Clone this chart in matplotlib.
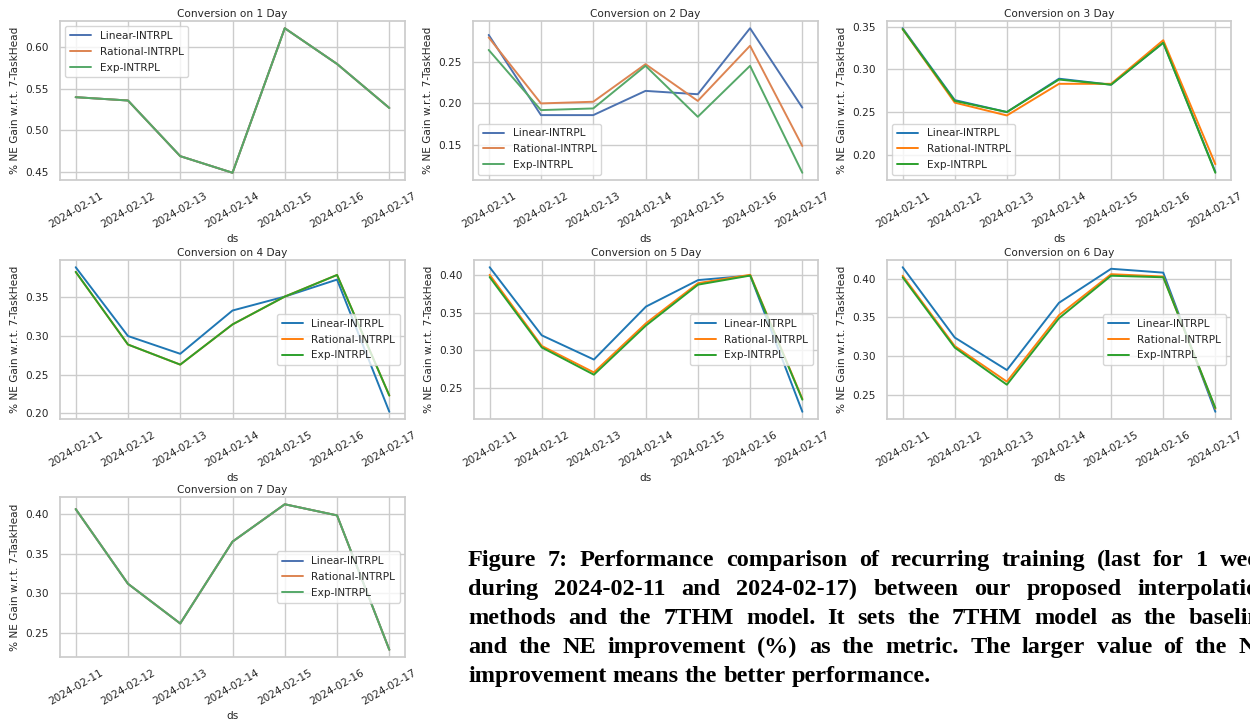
import matplotlib
matplotlib.use("Agg")
import matplotlib.pyplot as plt
import seaborn as sns

sns.set_theme(style="whitegrid")
plt.rcParams['font.family'] = ['DejaVu Sans']

dates = ["2024-02-11", "2024-02-12", "2024-02-13", "2024-02-14",
         "2024-02-15", "2024-02-16", "2024-02-17"]
methods = ["Linear-INTRPL", "Rational-INTRPL", "Exp-INTRPL"]

# Conversion on 1 Day (all three identical)
d1_linear = [0.540, 0.536, 0.469, 0.449, 0.623, 0.580, 0.527]
d1_rational = [0.540, 0.536, 0.469, 0.449, 0.623, 0.580, 0.527]
d1_exp = [0.540, 0.536, 0.469, 0.449, 0.623, 0.580, 0.527]

# Conversion on 2 Day
d2_linear = [0.282, 0.186, 0.186, 0.215, 0.211, 0.290, 0.195]
d2_rational = [0.279, 0.200, 0.202, 0.247, 0.203, 0.269, 0.149]
d2_exp = [0.264, 0.192, 0.194, 0.245, 0.184, 0.245, 0.117]

# Conversion on 3 Day
d3_linear = [0.348, 0.264, 0.250, 0.289, 0.282, 0.331, 0.180]
d3_rational = [0.347, 0.261, 0.246, 0.283, 0.283, 0.334, 0.189]
d3_exp = [0.347, 0.263, 0.250, 0.288, 0.282, 0.331, 0.179]

# Conversion on 4 Day
d4_linear = [0.389, 0.300, 0.277, 0.333, 0.351, 0.373, 0.202]
d4_rational = [0.383, 0.289, 0.263, 0.315, 0.351, 0.379, 0.223]
d4_exp = [0.383, 0.289, 0.263, 0.315, 0.351, 0.379, 0.223]

# Conversion on 5 Day
d5_linear = [0.410, 0.320, 0.288, 0.358, 0.393, 0.399, 0.219]
d5_rational = [0.400, 0.306, 0.271, 0.336, 0.389, 0.400, 0.236]
d5_exp = [0.397, 0.304, 0.268, 0.333, 0.387, 0.399, 0.235]

# Conversion on 6 Day
d6_linear = [0.415, 0.324, 0.282, 0.369, 0.413, 0.408, 0.228]
d6_rational = [0.404, 0.313, 0.267, 0.353, 0.406, 0.403, 0.232]
d6_exp = [0.402, 0.311, 0.263, 0.349, 0.404, 0.402, 0.233]

# Conversion on 7 Day (all three identical)
d7_linear = [0.406, 0.312, 0.262, 0.365, 0.412, 0.398, 0.229]
d7_rational = [0.406, 0.312, 0.262, 0.365, 0.412, 0.398, 0.229]
d7_exp = [0.406, 0.312, 0.262, 0.365, 0.412, 0.398, 0.229]

titles = ["Conversion on 1 Day", "Conversion on 2 Day", "Conversion on 3 Day",
          "Conversion on 4 Day", "Conversion on 5 Day", "Conversion on 6 Day",
          "Conversion on 7 Day"]
series = [
    (d1_linear, d1_rational, d1_exp),
    (d2_linear, d2_rational, d2_exp),
    (d3_linear, d3_rational, d3_exp),
    (d4_linear, d4_rational, d4_exp),
    (d5_linear, d5_rational, d5_exp),
    (d6_linear, d6_rational, d6_exp),
    (d7_linear, d7_rational, d7_exp),
]
legend_locs = ["upper left", "lower left", "lower left",
               "center right", "center right", "center right", "center right"]

caption_lines = [
    "Figure 7: Performance comparison of recurring training (last for 1 week",
    "during 2024-02-11 and 2024-02-17) between our proposed interpolation",
    "methods and the 7THM model. It sets the 7THM model as the baseline",
    "and the NE improvement (%) as the metric. The larger value of the NE",
    "improvement means the better performance.",
]

deep = sns.color_palette("deep")[:3]
tab = ["#1f77b4", "#ff7f0e", "#2ca02c"]
palettes = [deep, deep, tab, tab, tab, tab, deep]

W, H = 1250, 723
fig = plt.figure(figsize=(W / 100, H / 100), dpi=100)

rects = [
    (60, 21, 405, 180),
    (473, 21, 818, 180),
    (887, 21, 1231, 180),
    (60, 260, 405, 419),
    (474, 260, 818, 419),
    (887, 260, 1231, 419),
    (60, 497, 405, 657),
]

fs = 7.6
for i, (l, t, r, b) in enumerate(rects):
    ax = fig.add_axes([l / W, 1 - b / H, (r - l) / W, (b - t) / H])
    for name, vals, c in zip(methods, series[i], palettes[i]):
        ax.plot(dates, vals, color=c, lw=1.4, label=name)
    ax.set_title(titles[i], fontsize=fs, pad=3, color='0.15')
    ax.set_xlabel("ds", fontsize=fs, labelpad=3, color='0.15')
    ax.set_ylabel("% NE Gain w.r.t. 7-TaskHead", fontsize=fs, color='0.15')
    ax.tick_params(axis='both', labelsize=fs, pad=2, colors='0.15')
    for lab in ax.get_xticklabels():
        lab.set_rotation(30)
        lab.set_ha('center')
    ax.legend(loc=legend_locs[i], fontsize=fs, frameon=True,
              borderpad=0.45, labelspacing=0.55, handlelength=2.0)
    for s in ax.spines.values():
        s.set_color('0.8')

# Caption, justified like the paper text (column runs past the right edge)
cap_font = dict(family=['Liberation Serif', 'DejaVu Serif'], weight='bold',
                fontsize=17.5, color='black', va='baseline', ha='left')
x_left, x_right = 468, 1272
baselines = [566, 595, 624, 653, 682]
renderer = fig.canvas.get_renderer()
probe = fig.text(0, 0, "x x", **cap_font)
w_xx = fig.text(0, 0, "xx", **cap_font)
space_w = (probe.get_window_extent(renderer).width
           - w_xx.get_window_extent(renderer).width)
probe.remove()
w_xx.remove()
for k, line in enumerate(caption_lines):
    words = line.split(" ")
    objs = [fig.text(0, 1 - baselines[k] / H, w, **cap_font) for w in words]
    widths = [o.get_window_extent(renderer).width for o in objs]
    if k < len(caption_lines) - 1 and len(words) > 1:
        gap = (x_right - x_left - sum(widths)) / (len(words) - 1)
        gap = max(gap, 0.6 * space_w)
    else:
        gap = space_w
    x = x_left
    for o, w in zip(objs, widths):
        o.set_x(x / W)
        x += w + gap

fig.savefig("out.png", dpi=100, facecolor='white')
